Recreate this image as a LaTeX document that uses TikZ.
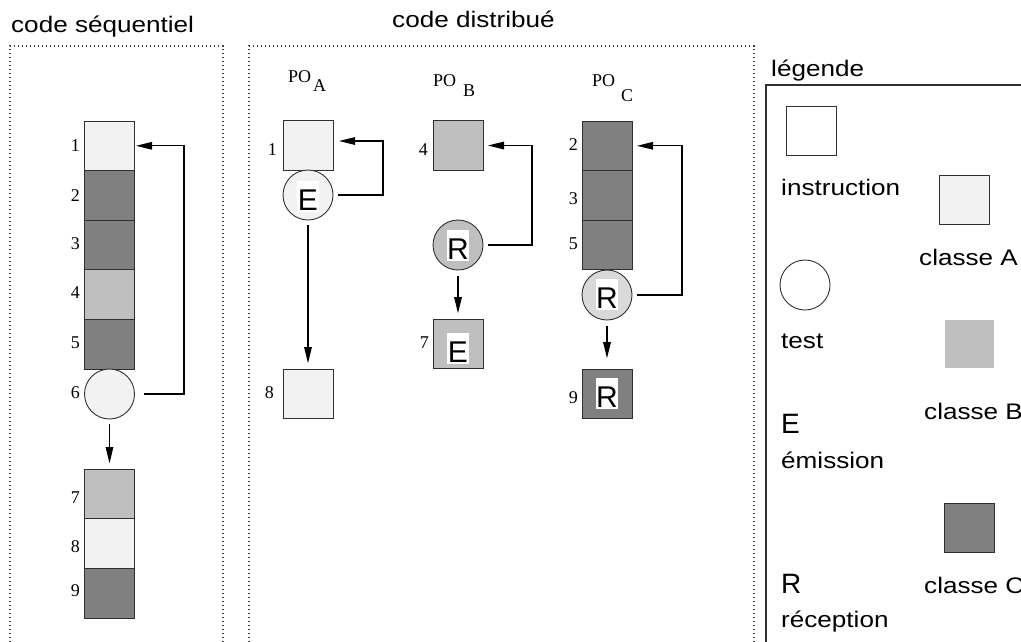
\documentclass[tikz,border=0pt]{standalone}
\usepackage{fontspec}
\setmainfont{Liberation Serif}
\newfontfamily\sfst[FakeStretch=1.16]{Liberation Sans}
\newfontfamily\sfl{Liberation Sans}
\usetikzlibrary{arrows.meta}
\definecolor{clA}{HTML}{F2F2F2}
\definecolor{clB}{HTML}{BFBFBF}
\definecolor{clC}{HTML}{808080}
\definecolor{clD}{HTML}{D9D9D9}
\definecolor{bord}{HTML}{303030}
\definecolor{dotc}{HTML}{404040}
\begin{document}
\begin{tikzpicture}[x=1pt,y=-1pt,
  sq/.style={draw=bord, line width=0.9pt, minimum width=50pt, minimum height=49.6pt, inner sep=0pt, outer sep=0pt},
  circ/.style={circle, draw=bord, line width=0.9pt, minimum size=50pt, inner sep=0pt, outer sep=0pt},
  lett/.style={fill=white, inner xsep=0.5pt, inner ysep=0pt, text height=29pt, text depth=2pt, anchor=base, font=\sfl\fontsize{30}{30}\selectfont},
  num/.style={inner sep=0pt, anchor=east, font=\fontsize{18}{18}\selectfont},
  po/.style={inner sep=0pt, anchor=base west, font=\fontsize{18}{18}\selectfont},
  txt/.style={inner sep=0pt, anchor=base west, font=\sfst\fontsize{22.5}{27}\selectfont},
  big/.style={inner sep=0pt, anchor=base west, font=\sfl\fontsize{28}{28}\selectfont},
  arr/.style={line width=1.3pt, draw=black, -{Triangle[length=16pt,width=7.5pt]}},
  dotbox/.style={draw=dotc, line width=1.3pt, dash pattern=on 1.2pt off 2.8pt},
]
\useasboundingbox (0,0) rectangle (1021,641);
\clip (0,0) rectangle (1021,641);

% titles
\node[txt] (t1) at (11,32) {code séquentiel};
\node[txt] (t2) at (392,27) {code distribué};
\node[txt] (t3) at (771,76) {légende};

% dotted frames
\draw[dotbox] (10,650) -- (10,46) -- (223,46) -- (223,650);
\draw[dotbox] (249,650) -- (249,46) -- (754,46) -- (754,650);

% ---------- sequential code ----------
\node[sq, fill=clA] (s1) at (109.5,145.8) {};
\node[sq, fill=clC] (s2) at (109.5,195.4) {};
\node[sq, fill=clC] (s3) at (109.5,245.0) {};
\node[sq, fill=clB] (s4) at (109.5,294.6) {};
\node[sq, fill=clC] (s5) at (109.5,344.2) {};
\node[circ, fill=clA] (c6) at (109.5,394) {};
\node[sq, fill=clB] (s7) at (109.5,494) {};
\node[sq, fill=clA] (s8) at (109.5,543.6) {};
\node[sq, fill=clC] (s9) at (109.5,593.2) {};

\node[num] (n1) at (80,146) {1};
\node[num] (n2) at (80,196) {2};
\node[num] (n3) at (80,244) {3};
\node[num] (n4) at (80,293) {4};
\node[num] (n5) at (80,343) {5};
\node[num] (n6) at (80,393) {6};
\node[num] (n7) at (80,498) {7};
\node[num] (n8) at (80,547) {8};
\node[num] (n9) at (80,591) {9};

\draw[arr, shorten <=9pt, shorten >=1.5pt] (c6.east) -- ++(49.5,0) |- (s1.east);
\draw[arr, shorten <=5pt, shorten >=6pt] (c6.south) -- (s7.north);

% ---------- distributed code ----------
\node[po] (poA) at (288,82) {PO};
\node[po] (poAs) at (313,91) {A};
\node[po] (poB) at (433,86) {PO};
\node[po] (poBs) at (463,96) {B};
\node[po] (poC) at (592,86) {PO};
\node[po] (poCs) at (621,101) {C};

% PO A
\node[sq, fill=clA] (a1) at (308,145.5) {};
\node[circ, fill=clA] (aE) at (308,195) {};
\node[lett] (aEt) at (308,210) {E};
\node[sq, fill=clA] (a8) at (308,394) {};
\node[num] (na1) at (277,150) {1};
\node[num] (na8) at (274,393) {8};
\draw[arr, shorten <=5pt, shorten >=6pt] (aE.east) -- ++(50,0) |- ([yshift=4.5pt]a1.east);
\draw[arr, shorten <=5pt, shorten >=6pt] (aE.south) -- (a8.north);

% PO B
\node[sq, fill=clB] (b4) at (458,145.5) {};
\node[circ, fill=clB] (bR) at (458,245) {};
\node[lett] (bRt) at (458,259) {R};
\node[sq, fill=clB] (b7) at (458,344) {};
\node[lett] (b7t) at (458,362) {E};
\node[num] (nb4) at (428,150) {4};
\node[num] (nb7) at (429,343) {7};
\draw[arr, shorten <=5pt, shorten >=5pt] (bR.east) -- ++(49,0) |- (b4.east);
\draw[arr, shorten <=6pt, shorten >=6pt] (bR.south) -- (b7.north);

% PO C
\node[sq, fill=clC] (c2) at (607,145.8) {};
\node[sq, fill=clC] (c3) at (607,195.4) {};
\node[sq, fill=clC] (c5) at (607,245.0) {};
\node[circ, fill=clD] (cR) at (607,295) {};
\node[lett] (cRt) at (607,308) {R};
\node[sq, fill=clC] (c9) at (607,394) {};
\node[lett] (c9t) at (607,407) {R};
\node[num] (nc2) at (578,145) {2};
\node[num] (nc3) at (578,199) {3};
\node[num] (nc5) at (578,244) {5};
\node[num] (nc9) at (578,398) {9};
\draw[arr, shorten <=5pt, shorten >=5pt] (cR.east) -- ++(50,0) |- (c2.east);
\draw[arr, shorten <=6pt, shorten >=11pt] (cR.south) -- (c9.north);

% ---------- legend ----------
\draw[draw=bord, line width=1.2pt] (766,650) -- (766,85) -- (1030,85);
\node[sq, fill=white] (li) at (811,131) {};
\node[sq, fill=clA] (lA) at (964.5,200) {};
\node[circ, fill=white] (lt) at (805,285) {};
\node[sq, draw=none, fill=clB, minimum width=49pt, minimum height=48pt] (lB) at (969.5,344) {};
\node[sq, fill=clC] (lC) at (969.5,528) {};

\node[txt] (ti) at (781,195) {instruction};
\node[txt] (tA) at (919,265) {classe A};
\node[txt] (tt) at (781,348) {test};
\node[txt] (tB) at (924,419) {classe B};
\node[big] (tE) at (781,433) {E};
\node[txt] (tem) at (781,468) {émission};
\node[big] (tR) at (781,593) {R};
\node[txt] (tC) at (924,593) {classe C};
\node[txt] (tre) at (781,627) {réception};
\end{tikzpicture}
\end{document}
